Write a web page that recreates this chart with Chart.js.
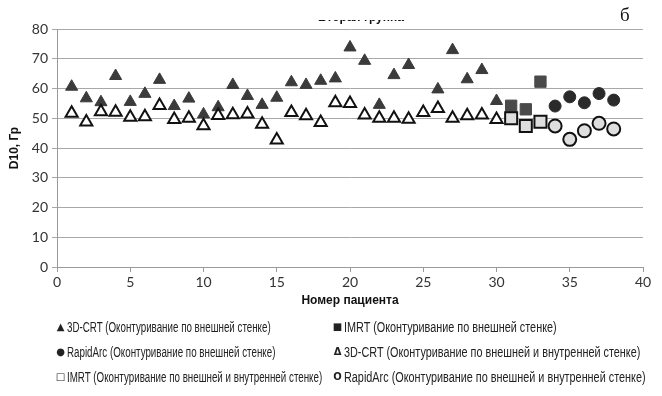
<!DOCTYPE html>
<html>
<head>
<meta charset="utf-8">
<script src="https://cdn.jsdelivr.net/npm/chart.js@4.4.1/dist/chart.umd.min.js"></script>
<style>
  html, body { margin: 0; padding: 0; background: #fff; }
  #wrap { position: relative; width: 662px; height: 396px; overflow: hidden; background: #fff; }
  #c { position: absolute; left: 0; top: 0; }
  #title-clip { position: absolute; left: 0; top: 20px; width: 662px; height: 7px; overflow: hidden; }
  #title { position: absolute; left: 316px; top: -10px; width: 90px; text-align: center;
           font: bold 12px "Liberation Sans", Arial, sans-serif; color: #111; white-space: nowrap; }
  #panel { position: absolute; left: 620px; top: 4px; font: 19px "Liberation Serif", "Times New Roman", serif; color: #111; }
  .lg { position: absolute; font: 14px "Liberation Sans", Arial, sans-serif;
        color: #222; white-space: nowrap; line-height: 14px; transform-origin: 0 50%; }
  .mk { position: absolute; width: 11px; text-align: center; font: 10px "DejaVu Sans", sans-serif;
        color: #222; line-height: 14px; }
</style>
</head>
<body>
<div id="wrap">
  <canvas id="c" width="662" height="396"></canvas>
  <div id="title-clip"><div id="title">Вторая группа</div></div>
  <div id="panel">б</div>
  <div id="legend"></div>
</div>
<script>
// Patient numbers per technique
const patientsCRT = [1,2,3,4,5,6,7,8,9,10,11,12,13,14,15,16,17,18,19,20,21,22,23,24,25,26,27,28,29,30];
const patientsIMRT = [31,32,33];
const patientsRA = [34,35,36,37,38];

// D10, Gy — contouring on the outer wall
const crtOuter = [60.6,56.7,55.4,64.2,55.5,58.2,62.9,54.1,56.6,51.3,53.7,61.2,57.5,54.5,56.9,62.1,61.2,62.6,63.4,73.8,69.3,54.5,64.5,67.9,null,59.7,72.9,63.1,66.2,55.8];
const imrtOuter = [54.2,53.0,62.3];
const raOuter = [54.1,57.2,55.2,58.3,56.1];

// D10, Gy — contouring on the outer and inner walls
const crtInner = [51.7,48.7,52.2,52.0,50.3,50.5,54.3,49.6,50.0,47.5,50.9,51.2,51.4,48.0,42.7,51.9,50.8,48.6,55.2,55.0,51.1,50.0,50.0,49.7,51.9,53.3,50.0,50.8,51.1,49.6];
const imrtInner = [50.0,47.4,48.8];
const raInner = [47.4,42.9,45.8,48.3,46.4];

const xTicks = [0,5,10,15,20,25,30,35,40];
const yTicks = [0,10,20,30,40,50,60,70,80];

const seriesLabels = [
  '3D-CRT (Оконтуривание по внешней стенке)',
  'IMRT (Оконтуривание по внешней стенке)',
  'RapidArc (Оконтуривание по внешней стенке)',
  '3D-CRT (Оконтуривание по внешней и внутренней стенке)',
  'IMRT (Оконтуривание по внешней и внутренней стенке)',
  'RapidArc (Оконтуривание по внешней и внутренней стенке)'
];

const pts = (xs, ys) => xs.map((x, i) => ({x, y: ys[i]})).filter(p => p.y !== null);

const datasets = [
  { label: seriesLabels[0], data: pts(patientsCRT, crtOuter), pointStyle: 'triangle', pointRadius: 7,
    backgroundColor: '#3b3b3b', borderColor: '#3b3b3b', borderWidth: 1, order: 5 },
  { label: seriesLabels[1], data: pts(patientsIMRT, imrtOuter), pointStyle: 'rect', pointRadius: 8,
    backgroundColor: '#4a4a4a', borderColor: '#4a4a4a', borderWidth: 1, order: 4 },
  { label: seriesLabels[2], data: pts(patientsRA, raOuter), pointStyle: 'circle', pointRadius: 6,
    backgroundColor: '#2a2a2a', borderColor: '#2a2a2a', borderWidth: 1, order: 3 },
  { label: seriesLabels[3], data: pts(patientsCRT, crtInner), pointStyle: 'triangle', pointRadius: 7,
    backgroundColor: '#ffffff', borderColor: '#111111', borderWidth: 2, order: 2 },
  { label: seriesLabels[4], data: pts(patientsIMRT, imrtInner), pointStyle: 'rect', pointRadius: 8.5,
    backgroundColor: '#dedede', borderColor: '#111111', borderWidth: 2, order: 1 },
  { label: seriesLabels[5], data: pts(patientsRA, raInner), pointStyle: 'circle', pointRadius: 6.5,
    backgroundColor: '#dedede', borderColor: '#111111', borderWidth: 2, order: 0 }
];
datasets.forEach(d => { d.pointHoverRadius = d.pointRadius; d.showLine = false; });

const tickFont = { family: 'Lato, "Open Sans", sans-serif', size: 14 };
const titleFont = { family: '"Liberation Sans", Arial, sans-serif', size: 12, weight: 'bold' };

new Chart(document.getElementById('c'), {
  type: 'scatter',
  data: { datasets },
  options: {
    responsive: false,
    animation: false,
    layout: { padding: { left: 0, right: 19, top: 29, bottom: 79 } },
    plugins: { legend: { display: false }, tooltip: { enabled: false } },
    scales: {
      x: {
        type: 'linear', min: 0, max: 40,
        afterBuildTicks: s => { s.ticks = xTicks.map(v => ({ value: v })); },
        afterFit: s => { s.height = 50; },
        grid: { display: true, drawOnChartArea: false, drawTicks: true, tickLength: 5, color: '#9a9a9a', lineWidth: 1 },
        border: { display: true, color: '#9a9a9a', width: 1 },
        ticks: { color: '#333', font: tickFont, padding: 2, maxRotation: 0 },
        title: { display: true, text: 'Номер пациента', color: '#111', font: titleFont, padding: { top: 0, bottom: 9 } }
      },
      y: {
        type: 'linear', min: 0, max: 80,
        afterBuildTicks: s => { s.ticks = yTicks.map(v => ({ value: v })); },
        afterFit: s => { s.width = 57; },
        grid: { display: true, drawTicks: true, tickLength: 5, color: '#a8a8a8', lineWidth: 1 },
        border: { display: true, color: '#9a9a9a', width: 1 },
        ticks: { color: '#333', font: tickFont, padding: 4 },
        title: { display: true, text: 'D10, Гр', color: '#111', font: titleFont, padding: { top: 7, bottom: 0 } }
      }
    }
  }
});

// Legend: two columns, three rows; marker glyph, then a horizontally condensed label
const legendItems = [
  { mark: '▲', text: seriesLabels[0], left: 55, top: 320, col: 0 },
  { mark: '■', text: seriesLabels[1], left: 332, top: 320, col: 1 },
  { mark: '●', text: seriesLabels[2], left: 55, top: 345, col: 0 },
  { mark: '<b>Δ</b>', text: seriesLabels[3], left: 332, top: 345, col: 1 },
  { mark: '<b>□</b>', text: seriesLabels[4], left: 55, top: 370, col: 0 },
  { mark: '<b>O</b>', text: seriesLabels[5], left: 332, top: 370, col: 1 }
];
const legend = document.getElementById('legend');
const textEls = legendItems.map(it => {
  const mk = document.createElement('div');
  mk.className = 'mk';
  mk.style.left = it.left + 'px';
  mk.style.top = it.top + 'px';
  mk.innerHTML = it.mark;
  legend.appendChild(mk);
  const el = document.createElement('div');
  el.className = 'lg';
  el.style.left = (it.left + 12) + 'px';
  el.style.top = it.top + 'px';
  el.textContent = it.text;
  legend.appendChild(el);
  return el;
});
// left column text ends near x=322, right column (row 2) near x=640
const squeezeLeft = 255 / textEls[4].offsetWidth;
const squeezeRight = 296 / textEls[3].offsetWidth;
textEls.forEach((el, i) => {
  const k = legendItems[i].col === 0 ? squeezeLeft : squeezeRight;
  el.style.transform = 'scaleX(' + k + ')';
});
</script>
</body>
</html>
